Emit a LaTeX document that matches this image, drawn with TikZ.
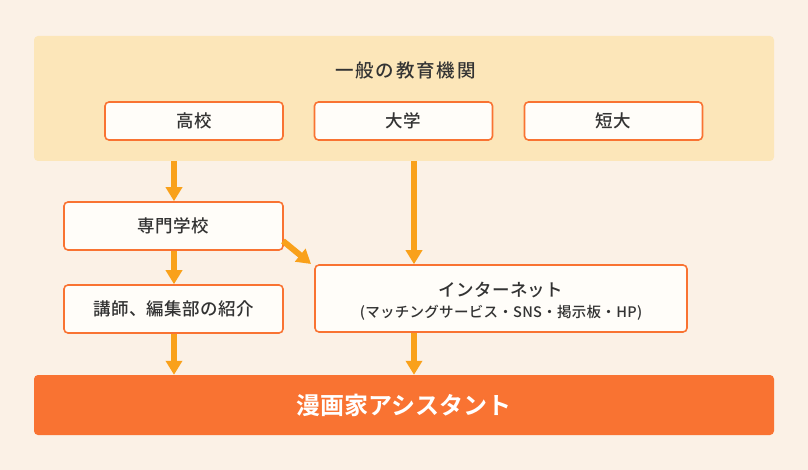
\documentclass[tikz,border=0pt]{standalone}
\usepackage{fontspec}
\setmainfont{Noto Sans CJK JP}
\IfFontExistsTF{Noto Sans CJK JP Medium}
  {\newfontfamily\jpmed[LetterSpace=2]{Noto Sans CJK JP Medium}
   \newfontfamily\jpmedsp[LetterSpace=10]{Noto Sans CJK JP Medium}}
  {\newfontfamily\jpmed[FakeBold=0.6,LetterSpace=2]{Noto Sans CJK JP}
   \newfontfamily\jpmedsp[FakeBold=0.6,LetterSpace=10]{Noto Sans CJK JP}}
\newfontfamily\jpbold{Noto Sans CJK JP Bold}
\usetikzlibrary{arrows.meta,positioning}
\definecolor{bgc}{HTML}{FBF1E6}
\definecolor{panelc}{HTML}{FCE6B9}
\definecolor{edgec}{HTML}{F97332}
\definecolor{boxfill}{HTML}{FFFDF9}
\definecolor{arrowc}{HTML}{F9A11B}
\definecolor{txtc}{HTML}{333333}
\tikzset{
  stepbox/.style={draw=edgec, line width=1.6pt, fill=boxfill, rounded corners=4pt, text=txtc, font=\jpmed\fontsize{17.5}{20}\selectfont, align=center, inner sep=0pt},
  flow/.style={draw=arrowc, line width=6pt, -{Triangle[width=16pt,length=14pt]}},
}
\begin{document}
\begin{tikzpicture}[x=1pt,y=-1pt]
\fill[bgc] (0,0) rectangle (808,470);
\useasboundingbox (0,0) rectangle (808,470);
\node[fill=panelc, rounded corners=4pt, minimum width=740pt, minimum height=125pt, inner sep=0pt] (panel) at (404,98.5) {};
\node[text=txtc, font=\jpmedsp\fontsize{18.5}{21}\selectfont] (title) at (405.5,71) {一般の教育機関};
\node[stepbox, minimum width=178pt, minimum height=38pt] (koko) at (194,121) {高校};
\node[stepbox, minimum width=178pt, minimum height=38pt] (daigaku) at (403.5,121) {大学};
\node[stepbox, minimum width=178pt, minimum height=38pt] (tandai) at (613.5,121) {短大};
\node[stepbox, minimum width=219pt, minimum height=48pt] (senmon) at (173.5,226) {専門学校};
\node[stepbox, minimum width=219pt, minimum height=48pt] (koshi) at (173.5,309) {講師、編集部の紹介};
\node[stepbox, minimum width=372pt, minimum height=67pt] (net) at (501,298.5) {};
\node[text=txtc, font=\jpmed\fontsize{17.5}{20}\selectfont] (netA) at (501,290) {インターネット};
\node[text=txtc, font=\jpmed\fontsize{14.5}{17}\selectfont] (netB) at (501,313) {(マッチングサービス・SNS・掲示板・HP)};
\node[fill=edgec, rounded corners=4pt, minimum width=740pt, minimum height=60pt, inner sep=0pt, text=white, font=\jpbold\fontsize{24}{28}\selectfont] (goal) at (404,405) {漫画家アシスタント};
\coordinate (s1) at (174,161);
\coordinate (s2) at (414,161);
\draw[flow] (s1) -- (s1 |- senmon.north);
\draw[flow] (s2) -- (s2 |- net.north);
\draw[flow] (senmon.south -| s1) -- (s1 |- koshi.north);
\draw[flow] (koshi.south -| s1) -- (s1 |- goal.north);
\draw[flow] (net.south -| s2) -- (s2 |- goal.north);
\coordinate (d1) at (283,241);
\coordinate (d2) at (311,264);
\draw[flow] (d1) -- (d2);
\end{tikzpicture}
\end{document}
